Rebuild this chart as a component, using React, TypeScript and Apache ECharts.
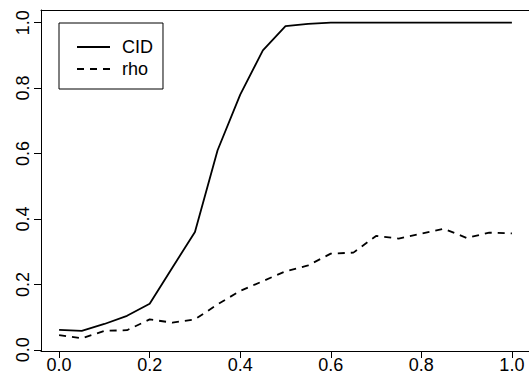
import React, { useEffect, useRef } from "react";
import * as echarts from "echarts";

const xValues = [0, 0.05, 0.1, 0.15, 0.2, 0.25, 0.3, 0.35, 0.4, 0.45, 0.5, 0.55, 0.6, 0.65, 0.7, 0.75, 0.8, 0.85, 0.9, 0.95, 1.0];
const cidValues = [0.061, 0.058, 0.079, 0.104, 0.141, 0.251, 0.36, 0.61, 0.78, 0.915, 0.989, 0.996, 1.0, 1.0, 1.0, 1.0, 1.0, 1.0, 1.0, 1.0, 1.0];
const rhoValues = [0.045, 0.035, 0.058, 0.06, 0.093, 0.083, 0.093, 0.139, 0.18, 0.21, 0.24, 0.258, 0.294, 0.297, 0.348, 0.34, 0.355, 0.37, 0.342, 0.358, 0.356];
const tickValues = [0, 0.2, 0.4, 0.6, 0.8, 1.0];
const seriesNames = ["CID", "rho"];

const FONT = "'Liberation Sans', Arial, Helvetica, sans-serif";
const X_MIN = -0.04;
const X_MAX = 1.04;
const Y_MIN = -0.0036;
const Y_MAX = 1.0386;

export default function App() {
  const ref = useRef<HTMLDivElement>(null);
  useEffect(() => {
    if (!ref.current) return;
    const chart = echarts.init(ref.current, null, { renderer: "svg" });
    const pair = (ys: number[]) => xValues.map((x, i) => [x, ys[i]]);
    const line = { show: true, onZero: false, lineStyle: { color: "#000", width: 1 } };
    const tick = { show: true, length: 7, lineStyle: { color: "#000", width: 1 }, customValues: tickValues };
    const label = {
      customValues: tickValues,
      formatter: (v: number) => v.toFixed(1),
      color: "#000",
      fontSize: 18,
      fontFamily: FONT,
    };
    const frameAxis = {
      type: "value" as const,
      axisLine: line,
      axisTick: { show: false },
      axisLabel: { show: false },
      splitLine: { show: false },
    };
    chart.setOption({
      animation: false,
      backgroundColor: "#fff",
      grid: {
        left: 41,
        top: 10,
        width: 489,
        height: 341,
        show: false,
        outerBoundsMode: "none",
      },
      xAxis: [
        {
          type: "value",
          min: X_MIN,
          max: X_MAX,
          position: "bottom",
          axisLine: line,
          axisTick: tick,
          splitLine: { show: false },
          axisLabel: { ...label, margin: 5 },
        },
        { ...frameAxis, min: X_MIN, max: X_MAX, position: "top" },
      ],
      yAxis: [
        {
          type: "value",
          min: Y_MIN,
          max: Y_MAX,
          position: "left",
          axisLine: line,
          axisTick: tick,
          splitLine: { show: false },
          axisLabel: { ...label, rotate: 90, margin: 9 },
        },
        { ...frameAxis, min: Y_MIN, max: Y_MAX, position: "right" },
      ],
      legend: {
        orient: "vertical",
        left: 59,
        top: 23,
        backgroundColor: "#fff",
        borderColor: "#000",
        borderWidth: 1,
        borderRadius: 0,
        padding: [15, 10, 11, 17],
        itemWidth: 33,
        itemHeight: 14,
        itemGap: 4,
        itemStyle: { opacity: 0 },
        textStyle: { color: "#000", fontSize: 18, fontFamily: FONT, padding: [0, 0, 0, 7] },
        data: seriesNames,
      },
      series: [
        {
          name: seriesNames[0],
          type: "line",
          data: pair(cidValues),
          symbol: "none",
          lineStyle: { color: "#000", width: 1.8, type: "solid" },
          itemStyle: { color: "#000" },
        },
        {
          name: seriesNames[1],
          type: "line",
          data: pair(rhoValues),
          symbol: "none",
          lineStyle: { color: "#000", width: 1.8, type: [7, 6] },
          itemStyle: { color: "#000" },
        },
      ],
    });
    return () => chart.dispose();
  }, []);
  return <div ref={ref} style={{ position: "absolute", left: 0, top: 0, width: 529, height: 376 }} />;
}
